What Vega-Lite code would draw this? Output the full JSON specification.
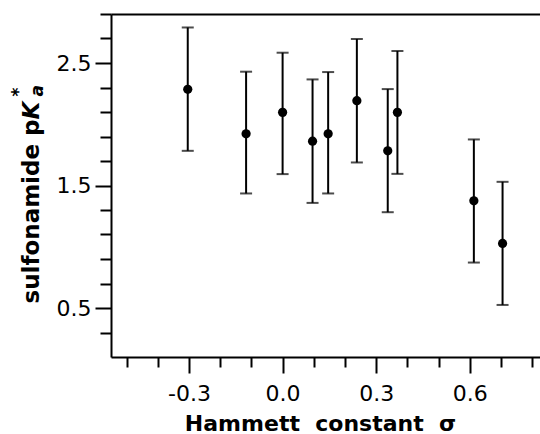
{
  "$schema": "https://vega.github.io/schema/vega-lite/v6.json",
  "width": 429,
  "height": 343,
  "autosize": {"type": "none"},
  "padding": {"left": 111, "top": 14, "right": 0, "bottom": 77},
  "background": "white",
  "config": {
    "view": {"stroke": null},
    "axis": {
      "domainColor": "black", "domainWidth": 2, "tickColor": "black", "tickWidth": 2,
      "labelColor": "black", "titleColor": "black", "labelFont": "DejaVu Sans", "titleFont": "DejaVu Sans",
      "grid": false
    }
  },
  "data": {
    "values": [
      {"sigma": -0.304, "pka": 2.285, "lo": 1.783, "hi": 2.790},
      {"sigma": -0.117, "pka": 1.922, "lo": 1.435, "hi": 2.429},
      {"sigma": 0.000, "pka": 2.097, "lo": 1.593, "hi": 2.584},
      {"sigma": 0.096, "pka": 1.862, "lo": 1.358, "hi": 2.366},
      {"sigma": 0.146, "pka": 1.922, "lo": 1.435, "hi": 2.426},
      {"sigma": 0.238, "pka": 2.192, "lo": 1.688, "hi": 2.696},
      {"sigma": 0.337, "pka": 1.783, "lo": 1.282, "hi": 2.287},
      {"sigma": 0.368, "pka": 2.097, "lo": 1.595, "hi": 2.598},
      {"sigma": 0.613, "pka": 1.375, "lo": 0.871, "hi": 1.876},
      {"sigma": 0.705, "pka": 1.027, "lo": 0.525, "hi": 1.530}
    ]
  },
  "layer": [
    {
      "mark": {"type": "errorbar", "color": "black", "thickness": 2, "ticks": {"size": 12, "thickness": 2, "color": "black"}, "rule": {"strokeWidth": 2, "color": "black"}},
      "encoding": {
        "x": {
          "field": "sigma", "type": "quantitative",
          "scale": {"domain": [-0.55, 0.825], "nice": false, "zero": false},
          "axis": {
            "orient": "bottom",
            "values": [-0.5, -0.4, -0.3, -0.2, -0.1, 0, 0.1, 0.2, 0.3, 0.4, 0.5, 0.6, 0.7, 0.8],
            "tickSize": {"condition": {"test": "indexof([-0.3, 0, 0.3, 0.6], datum.value) >= 0", "value": 16}, "value": 10},
            "labelExpr": "indexof([-0.3, 0, 0.3, 0.6], datum.value) >= 0 ? replace(format(datum.value, '.1f'), '\u2212', '-') : ''",
            "labelFontSize": 22, "labelBaseline": "alphabetic", "labelPadding": 27,
            "labelFlush": false, "labelOverlap": false, "labelBound": false,
            "title": "Hammett\u00a0 constant\u00a0 σ", "titleFontSize": 22, "titleFontWeight": "bold",
            "titleX": 209, "titleY": 73, "titleAlign": "center", "titleBaseline": "alphabetic"
          }
        },
        "y": {
          "field": "lo", "type": "quantitative",
          "scale": {"domain": [0.1, 2.9], "nice": false, "zero": false},
          "axis": {
            "orient": "left",
            "values": [0.3, 0.5, 0.7, 0.9, 1.1, 1.3, 1.5, 1.7, 1.9, 2.1, 2.3, 2.5, 2.7, 2.9],
            "tickSize": {"condition": {"test": "indexof([0.5, 1.5, 2.5], datum.value) >= 0", "value": 16}, "value": 11},
            "labelExpr": "indexof([0.5, 1.5, 2.5], datum.value) >= 0 ? format(datum.value, '.1f') : ''",
            "labelFontSize": 22, "labelPadding": 4, "labelBaseline": "middle",
            "labelFlush": false, "labelOverlap": false, "labelBound": false,
            "title": "sulfonamide p", "titleFontSize": 23, "titleFontWeight": "bold",
            "titleAngle": 270, "titleX": -73, "titleY": 289, "titleAlign": "left", "titleBaseline": "alphabetic"
          }
        },
        "y2": {"field": "hi"}
      }
    },
    {
      "mark": {"type": "circle", "size": 85, "color": "black", "opacity": 1},
      "encoding": {
        "x": {
          "field": "sigma", "type": "quantitative",
          "axis": {
            "orient": "top", "domain": true, "ticks": false, "labels": false,
            "title": ["\u00a0\u00a0\u00a0*", "a"], "titleFontSize": 17, "titleFontWeight": "bold", "titleFontStyle": "italic",
            "titleAngle": 270, "titleX": -88, "titleY": 82, "titleAlign": "left", "titleBaseline": "alphabetic", "titleLineHeight": 19
          }
        },
        "y": {
          "field": "pka", "type": "quantitative",
          "axis": {
            "orient": "right", "domain": false, "ticks": false, "labels": false,
            "title": "K", "titleFontSize": 23, "titleFontWeight": "bold", "titleFontStyle": "italic",
            "titleAngle": 270, "titleX": -502, "titleY": 105, "titleAlign": "left", "titleBaseline": "alphabetic"
          }
        }
      }
    }
  ],
  "resolve": {"axis": {"x": "independent", "y": "independent"}}
}
